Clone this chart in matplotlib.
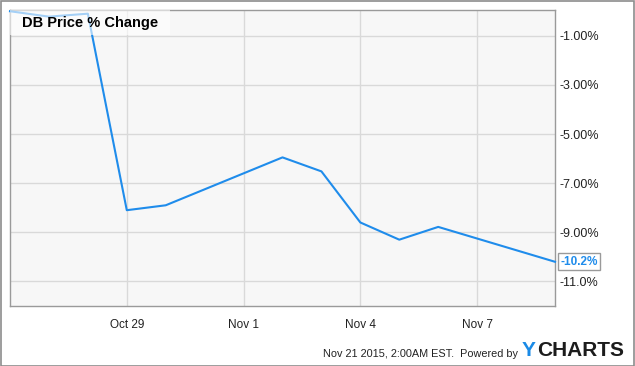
import datetime as dt

import matplotlib
matplotlib.use("Agg")
import matplotlib.pyplot as plt
from matplotlib.patches import Rectangle

# data
dates = ["2015-10-26", "2015-10-27", "2015-10-28", "2015-10-29", "2015-10-30",
         "2015-11-02", "2015-11-03", "2015-11-04", "2015-11-05", "2015-11-06",
         "2015-11-09"]
pct_change = [0.0, -0.22, -0.10, -8.10, -7.90, -5.95, -6.52, -8.60, -9.30, -8.78, -10.2]
y_ticks = [-1, -3, -5, -7, -9, -11]
y_labels = ["-1.00%", "-3.00%", "-5.00%", "-7.00%", "-9.00%", "-11.0%"]
x_ticks = ["2015-10-29", "2015-11-01", "2015-11-04", "2015-11-07"]
x_labels = ["Oct 29", "Nov 1", "Nov 4", "Nov 7"]

plt.rcParams["font.family"] = ["Liberation Sans", "DejaVu Sans"]

line_color = "#1f8ceb"
W, H = 635, 366

fig = plt.figure(figsize=(W / 100, H / 100), dpi=100)
ax = fig.add_axes([10 / W, 1 - 306 / H, 545 / W, 296 / H])
ax.set_facecolor("#f7f7f7")

x = [dt.datetime.strptime(d, "%Y-%m-%d") for d in dates]
ax.plot(x, pct_change, color=line_color, lw=1.5, zorder=3, clip_on=False)

ax.set_xlim(x[0], x[-1])
ax.set_ylim(-12.0, 0.05)

ax.set_yticks(y_ticks)
ax.set_yticklabels(y_labels)
ax.yaxis.tick_right()
ax.set_xticks([dt.datetime.strptime(d, "%Y-%m-%d") for d in x_ticks])
ax.set_xticklabels(x_labels)
ax.tick_params(length=0, colors="#222222")
ax.tick_params(axis="y", labelsize=9, pad=3)
ax.tick_params(axis="x", labelsize=8.5, pad=9)
ax.grid(True, color="#d9d9d9", lw=1)
ax.set_axisbelow(True)
for s in ax.spines.values():
    s.set_color("#9a9a9a")
    s.set_linewidth(1)

# title box
ax.add_patch(Rectangle((0, 1 - 25 / 296), 160 / 545, 25 / 296, transform=ax.transAxes,
                       facecolor="white", alpha=0.6, edgecolor="none", zorder=4))
ax.text(12 / 545, 1 - 13 / 296, "DB Price % Change", transform=ax.transAxes,
        fontsize=10.5, fontweight="bold", va="center", ha="left", zorder=5)

# last value label
ax.annotate("-10.2%", xy=(x[-1], pct_change[-1]), xytext=(4, 0), textcoords="offset points",
            va="center", ha="left", fontsize=8.5, fontweight="bold", color=line_color,
            bbox=dict(boxstyle="square,pad=0.2", fc="white", ec="#9a9a9a", lw=1),
            annotation_clip=False, zorder=6)

# footer
fig.text(518 / W, 1 - 354 / H, "Nov 21 2015, 2:00AM EST.  Powered by", ha="right",
         va="center", fontsize=7.8, color="#222222")
fig.text(522 / W, 1 - 351 / H, "Y", ha="left", va="center", fontsize=15,
         fontweight="bold", color="#1a8ae6")
fig.text(537 / W, 1 - 351 / H, "CHARTS", ha="left", va="center", fontsize=15,
         fontweight="bold", color="#1c1c1c")

# outer border
fig.add_artist(Rectangle((0.5 / W, 0.5 / H), 1 - 1.5 / W, 1 - 1.5 / H, transform=fig.transFigure,
                         fill=False, edgecolor="#8c8c8c", lw=1.2))

fig.savefig("out.png", dpi=100, facecolor="white")
